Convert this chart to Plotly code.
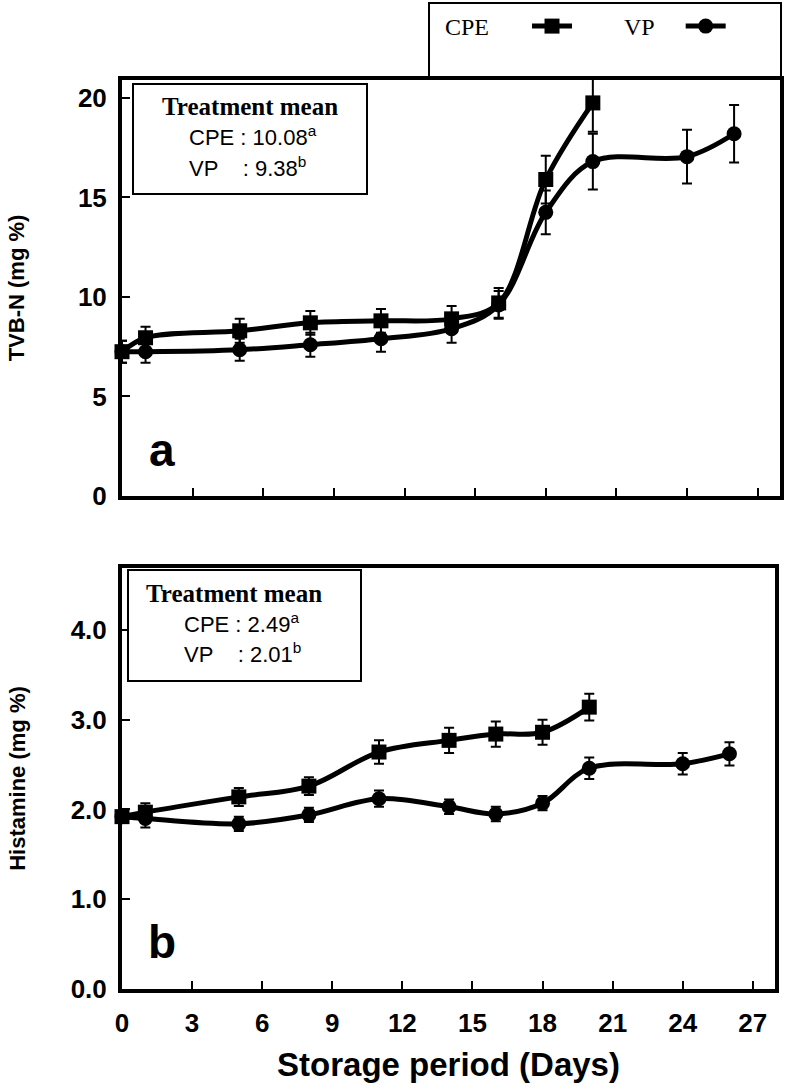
import plotly.graph_objects as go

# ---------------- data ----------------
days_cpe = [0, 1, 5, 8, 11, 14, 16, 18, 20]
days_vp = [0, 1, 5, 8, 11, 14, 16, 18, 20, 24, 26]

tvbn_cpe = [7.25, 7.95, 8.3, 8.7, 8.8, 8.9, 9.7, 15.9, 19.75]
tvbn_cpe_err = [0.55, 0.55, 0.6, 0.6, 0.6, 0.65, 0.75, 1.2, 1.45]
tvbn_vp = [7.25, 7.25, 7.35, 7.6, 7.9, 8.4, 9.6, 14.25, 16.8, 17.05, 18.2]
tvbn_vp_err = [0.55, 0.55, 0.55, 0.6, 0.65, 0.7, 0.7, 1.1, 1.4, 1.35, 1.45]

hist_cpe = [1.92, 1.97, 2.14, 2.26, 2.64, 2.77, 2.84, 2.86, 3.14]
hist_cpe_err = [0.06, 0.1, 0.1, 0.1, 0.13, 0.14, 0.14, 0.14, 0.15]
hist_vp = [1.92, 1.90, 1.84, 1.94, 2.12, 2.03, 1.95, 2.07, 2.46, 2.51, 2.62]
hist_vp_err = [0.06, 0.1, 0.08, 0.08, 0.09, 0.08, 0.08, 0.08, 0.12, 0.12, 0.13]

x_ticks = [0, 3, 6, 9, 12, 15, 18, 21, 24, 27]
tvbn_ticks = [0, 5, 10, 15, 20]
hist_ticks = [0, 1, 2, 3, 4]

series_names = ["CPE", "VP"]
mean_tvbn = ["10.08", "9.38"]
mean_hist = ["2.49", "2.01"]
mean_letters = ["a", "b"]

# ---------------- layout helpers (page pixels -> paper) ----------------
W, H = 786, 1092


def fx(px):
    return px / W


def fy(py):
    return 1 - py / H


SANS = "Liberation Sans, Arial, sans-serif"
SERIF = "Liberation Serif, Times New Roman, serif"
BLACK = "#000000"
nb = "&nbsp;"

fig = go.Figure()


def add_series(x, y, err, name, symbol, xa, ya, show, legend):
    fig.add_trace(go.Scatter(
        x=x, y=y, name="", mode="lines+markers",
        legendgroup=name, legend=legend,
        hovertemplate=name + ": %{y}<extra></extra>",
        xaxis=xa, yaxis=ya, showlegend=show, cliponaxis=False,
        line=dict(color=BLACK, width=5, shape="spline", smoothing=1.0),
        marker=dict(symbol=symbol, size=15, color=BLACK),
        error_y=dict(type="data", array=err, visible=True,
                     color=BLACK, thickness=2, width=5),
    ))


add_series(days_cpe, tvbn_cpe, tvbn_cpe_err, series_names[0], "square", "x", "y", True, "legend")
add_series(days_vp, tvbn_vp, tvbn_vp_err, series_names[1], "circle", "x", "y", True, "legend2")
add_series(days_cpe, hist_cpe, hist_cpe_err, series_names[0], "square", "x2", "y2", False, "legend")
add_series(days_vp, hist_vp, hist_vp_err, series_names[1], "circle", "x2", "y2", False, "legend2")

tickfont = dict(family=SANS, size=26, color=BLACK, weight="bold")

common_x = dict(range=[0, 27.95], tickmode="array", tickvals=x_ticks,
                ticks="inside", ticklen=8, tickwidth=2, tickcolor=BLACK,
                showline=True, linewidth=4, linecolor=BLACK, mirror=True,
                showgrid=False, zeroline=False, automargin=False,
                tickfont=tickfont)
common_y = dict(ticks="inside", ticklen=8, tickwidth=2, tickcolor=BLACK,
                showline=True, linewidth=4, linecolor=BLACK, mirror=True,
                showgrid=False, zeroline=False, automargin=False,
                tickfont=tickfont, ticklabelstandoff=6)

legend_font = dict(family=SERIF, size=24, color=BLACK)
common_legend = dict(orientation="h", xanchor="left", yanchor="top",
                     font=legend_font, bgcolor="rgba(0,0,0,0)", borderwidth=0,
                     itemwidth=40)

fig.update_layout(
    width=W, height=H,
    margin=dict(l=0, r=0, t=0, b=0, autoexpand=False),
    paper_bgcolor="white", plot_bgcolor="white",
    xaxis=dict(common_x, domain=[fx(122), fx(780)], anchor="y",
               showticklabels=False),
    yaxis=dict(common_y, domain=[fy(496), fy(80)], anchor="x",
               range=[0, 20.9], tickmode="array", tickvals=tvbn_ticks,
               title=dict(text="TVB-N (mg %)",
                          font=dict(family=SANS, size=22, color=BLACK, weight="bold"),
                          standoff=48)),
    xaxis2=dict(common_x, domain=[fx(122), fx(775)], anchor="y2",
                showticklabels=True, ticklabelstandoff=8,
                title=dict(text="Storage period (Days)",
                           font=dict(family=SANS, size=33, color=BLACK, weight="bold"),
                           standoff=17)),
    yaxis2=dict(common_y, domain=[fy(989), fy(568)], anchor="x2",
                range=[0, 4.69], tickmode="array", tickvals=hist_ticks,
                tickformat=".1f",
                title=dict(text="Histamine (mg %)",
                           font=dict(family=SANS, size=22, color=BLACK, weight="bold"),
                           standoff=40)),
    legend=dict(common_legend, x=fx(443), y=fy(4),
                title=dict(text=series_names[0] + nb * 5, side="left", font=legend_font)),
    legend2=dict(common_legend, x=fx(622), y=fy(4),
                 title=dict(text=series_names[1] + nb * 3, side="left", font=legend_font)),
)

# legend frame and treatment-mean boxes
fig.add_shape(type="rect", xref="paper", yref="paper",
              x0=fx(429), x1=fx(781), y0=fy(79), y1=fy(3),
              line=dict(color=BLACK, width=2), layer="below")
fig.add_shape(type="rect", xref="paper", yref="paper",
              x0=fx(133), x1=fx(367), y0=fy(194), y1=fy(84),
              line=dict(color=BLACK, width=2), fillcolor="white", layer="above")
fig.add_shape(type="rect", xref="paper", yref="paper",
              x0=fx(128), x1=fx(361), y0=fy(681), y1=fy(570),
              line=dict(color=BLACK, width=2), fillcolor="white", layer="above")


def ann(text, x, y, font, xanchor="center"):
    fig.add_annotation(text=text, xref="paper", yref="paper", x=fx(x), y=fy(y),
                       xanchor=xanchor, yanchor="middle", showarrow=False, font=font)


tm_font = dict(family=SERIF, size=25, color=BLACK, weight="bold")
val_font = dict(family=SANS, size=22, color=BLACK)

ann("Treatment mean", 250, 107, tm_font)
ann(f"{series_names[0]} : {mean_tvbn[0]}<sup>{mean_letters[0]}</sup>", 187, 136, val_font, "left")
ann(f"{series_names[1]}{nb*4}: {mean_tvbn[1]}<sup>{mean_letters[1]}</sup>", 187, 167, val_font, "left")

ann("Treatment mean", 234, 593, tm_font)
ann(f"{series_names[0]} : {mean_hist[0]}<sup>{mean_letters[0]}</sup>", 182, 623, val_font, "left")
ann(f"{series_names[1]}{nb*4}: {mean_hist[1]}<sup>{mean_letters[1]}</sup>", 182, 653, val_font, "left")

panel_font = dict(family=SANS, size=46, color=BLACK, weight="bold")
ann("a", 162, 450, panel_font)
ann("b", 162, 942, panel_font)

# remove the default 8px page margin so the figure fills the window exactly
fig.write_html(
    "out.html",
    config={"displayModeBar": False},
    post_script=("document.body.style.margin='0px';"
                 "document.documentElement.style.overflow='hidden';"
                 "document.body.style.overflow='hidden';"),
)
